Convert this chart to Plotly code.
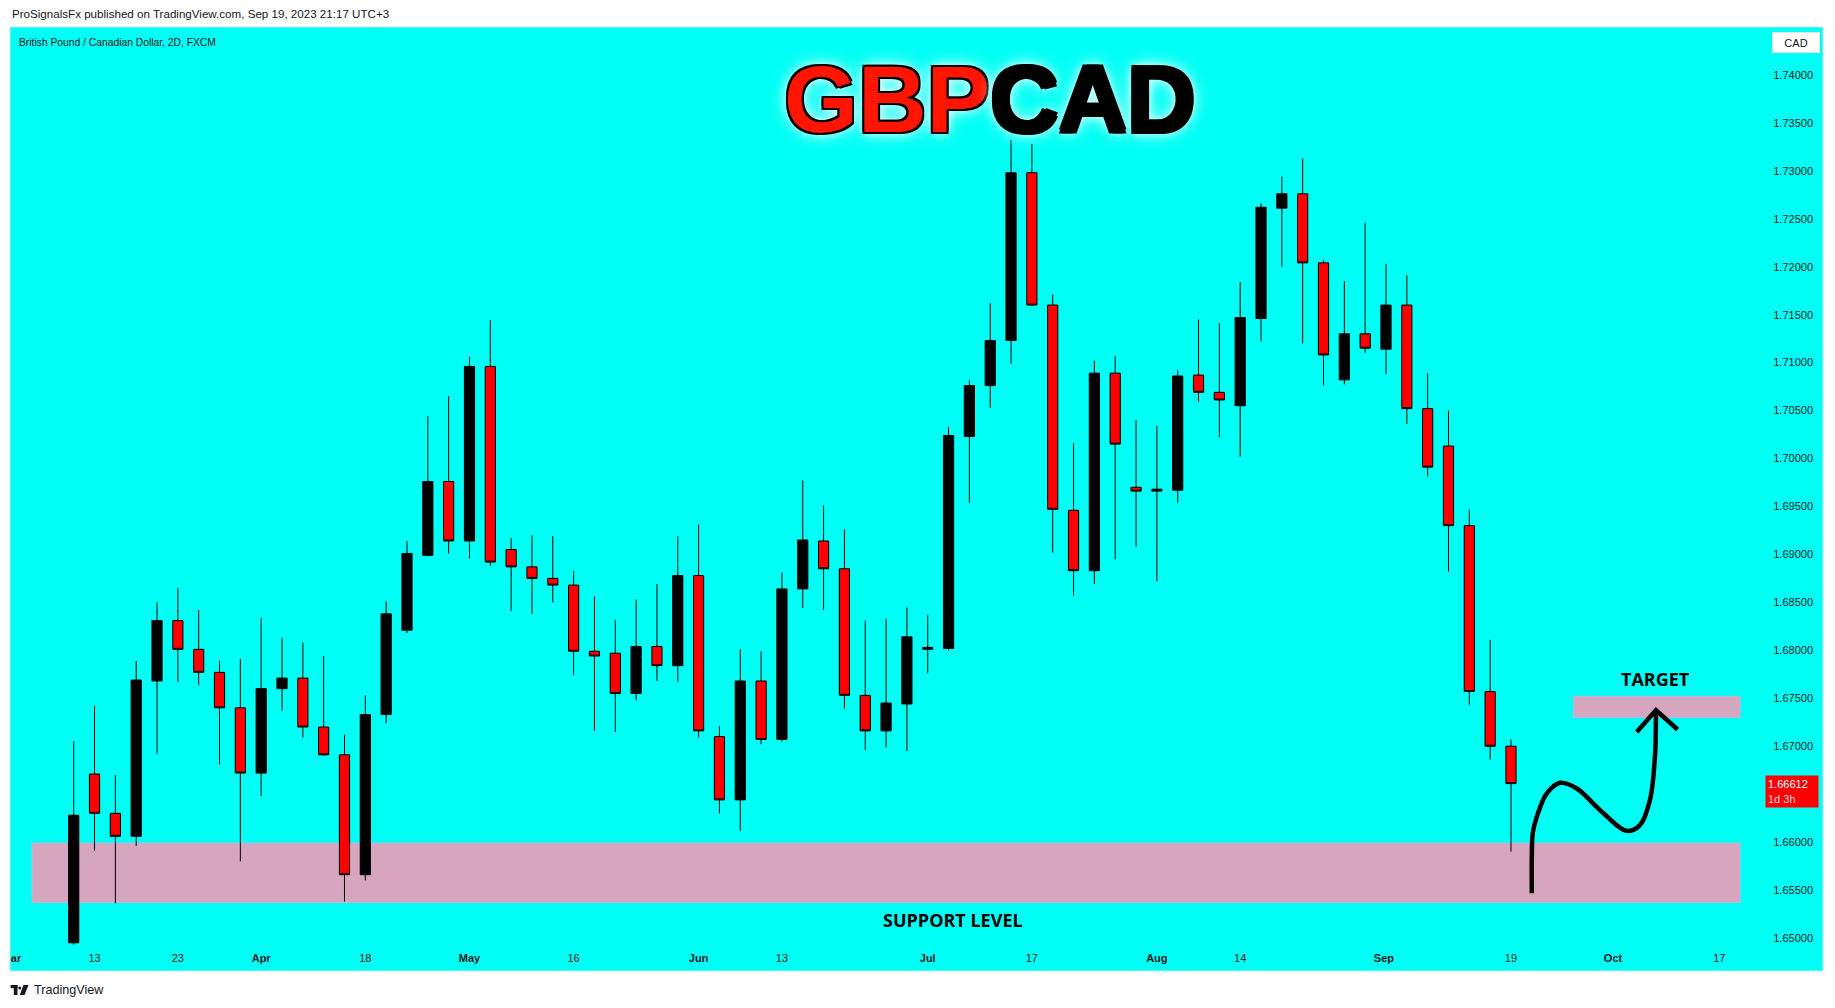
import plotly.graph_objects as go

# ---------------- data ----------------
bar_index = list(range(70))
opens = [1.6495, 1.6671, 1.6630, 1.6606, 1.6768, 1.6831, 1.6801, 1.6777, 1.6740, 1.6672,
         1.6760, 1.6771, 1.6720, 1.6691, 1.6566, 1.6733, 1.6821, 1.6899, 1.6976, 1.6914,
         1.7096, 1.6905, 1.6887, 1.6875, 1.6868, 1.6799, 1.6797, 1.6755, 1.6804, 1.6784,
         1.6878, 1.6710, 1.6644, 1.6768, 1.6707, 1.6864, 1.6914, 1.6885, 1.6753, 1.6716,
         1.6744, 1.6801, 1.6802, 1.7023, 1.7076, 1.7123, 1.7298, 1.7160, 1.6946, 1.6883,
         1.7089, 1.6970, 1.6966, 1.6967, 1.7087, 1.7069, 1.7055, 1.7146, 1.7261, 1.7276,
         1.7204, 1.7082, 1.7130, 1.7114, 1.7160, 1.7052, 1.7013, 1.6930, 1.6757, 1.6700]
highs = [1.6705, 1.6742, 1.6670, 1.6789, 1.6850, 1.6865, 1.6842, 1.6789, 1.6791, 1.6834,
         1.6813, 1.6808, 1.6794, 1.6712, 1.6753, 1.6851, 1.6914, 1.7044, 1.7065, 1.7106,
         1.7144, 1.6917, 1.6920, 1.6919, 1.6883, 1.6856, 1.6832, 1.6853, 1.6869, 1.6919,
         1.6931, 1.6721, 1.6801, 1.6799, 1.6881, 1.6977, 1.6951, 1.6926, 1.6831, 1.6833,
         1.6845, 1.6837, 1.7033, 1.7082, 1.7162, 1.7332, 1.7328, 1.7171, 1.7016, 1.7102,
         1.7107, 1.7040, 1.7034, 1.7092, 1.7145, 1.7141, 1.7184, 1.7266, 1.7294, 1.7313,
         1.7207, 1.7185, 1.7246, 1.7203, 1.7191, 1.7089, 1.7050, 1.6947, 1.6811, 1.6707]
lows = [1.6493, 1.6591, 1.6536, 1.6596, 1.6692, 1.6767, 1.6764, 1.6681, 1.6580, 1.6648,
        1.6737, 1.6709, 1.6690, 1.6538, 1.6560, 1.6724, 1.6818, 1.6898, 1.6901, 1.6896,
        1.6888, 1.6841, 1.6838, 1.6850, 1.6774, 1.6716, 1.6715, 1.6748, 1.6768, 1.6767,
        1.6709, 1.6630, 1.6612, 1.6702, 1.6705, 1.6844, 1.6842, 1.6739, 1.6696, 1.6699,
        1.6695, 1.6776, 1.6800, 1.6954, 1.7053, 1.7099, 1.7159, 1.6902, 1.6857, 1.6869,
        1.6895, 1.6908, 1.6872, 1.6954, 1.7059, 1.7022, 1.7002, 1.7122, 1.7200, 1.7120,
        1.7076, 1.7077, 1.7110, 1.7088, 1.7036, 1.6981, 1.6882, 1.6743, 1.6686, 1.6590]
closes = [1.6628, 1.6630, 1.6606, 1.6769, 1.6831, 1.6801, 1.6777, 1.6740, 1.6672, 1.6760,
          1.6771, 1.6720, 1.6691, 1.6566, 1.6733, 1.6838, 1.6901, 1.6976, 1.6914, 1.7096,
          1.6892, 1.6887, 1.6875, 1.6868, 1.6799, 1.6794, 1.6755, 1.6804, 1.6784, 1.6878,
          1.6716, 1.6644, 1.6768, 1.6707, 1.6864, 1.6915, 1.6885, 1.6753, 1.6716, 1.6745,
          1.6814, 1.6803, 1.7024, 1.7076, 1.7123, 1.7298, 1.7160, 1.6947, 1.6883, 1.7089,
          1.7015, 1.6966, 1.6968, 1.7086, 1.7069, 1.7061, 1.7147, 1.7262, 1.7276, 1.7204,
          1.7108, 1.7130, 1.7115, 1.7160, 1.7052, 1.6991, 1.6930, 1.6757, 1.6700, 1.6661]

x_tick_positions = [-2.77, 1, 5, 9, 14, 19, 24, 30, 34, 41, 46, 52, 56, 62.9, 69, 73.9, 79]
x_tick_labels = ["<b>ar</b>", "13", "23", "<b>Apr</b>", "18", "<b>May</b>", "16", "<b>Jun</b>",
                 "13", "<b>Jul</b>", "17", "<b>Aug</b>", "14", "<b>Sep</b>", "19", "<b>Oct</b>", "17"]

y_tick_values = [1.650, 1.655, 1.660, 1.670, 1.675, 1.680, 1.685, 1.690, 1.695, 1.700,
                 1.705, 1.710, 1.715, 1.720, 1.725, 1.730, 1.735, 1.740]
y_tick_labels = ["1.65000", "1.65500", "1.66000", "1.67000", "1.67500", "1.68000", "1.68500",
                 "1.69000", "1.69500", "1.70000", "1.70500", "1.71000", "1.71500", "1.72000",
                 "1.72500", "1.73000", "1.73500", "1.74000"]

support_zone = [1.6537, 1.6599]
target_zone = [1.6730, 1.6752]
support_span = [-2, 80]
target_span = [72, 80]

last_price = "1.66612"
countdown = "1d 3h"

# hand-drawn projection path (bar index, price)
path_x = [70.0, 70.0, 70.05, 70.24, 70.72, 71.36, 72.16, 73.28, 74.56, 75.19, 75.67, 75.91, 75.96]
path_y = [1.65466, 1.65847, 1.66100, 1.66264, 1.66507, 1.66618, 1.66559, 1.66333, 1.66118,
          1.66177, 1.66438, 1.66889, 1.67375]
head_x = [75.04, 75.96, 77.0]
head_y = [1.67149, 1.67375, 1.67174]

# ---------------- layout geometry ----------------
W, H = 1835, 1008
ML, MR, MT, MB = 10, 12, 27, 37
PW, PH = W - ML - MR, H - MT - MB
PX_PER_UNIT = 9590.0


def pxx(px):
    return (px - ML) / PW


def pxy(py):
    return (H - MB - py) / PH


CYAN = "#00FFF5"
PINK = "#D6A6BF"
TXT = "#131722"

fig = go.Figure()

fig.add_trace(go.Candlestick(
    x=bar_index, open=opens, high=highs, low=lows, close=closes,
    increasing=dict(line=dict(color="#000000", width=1), fillcolor="#000000"),
    decreasing=dict(line=dict(color="#000000", width=1), fillcolor="#FF0000"),
    whiskerwidth=0, hoverinfo="skip", showlegend=False,
))

fig.add_trace(go.Scatter(
    x=path_x, y=path_y, mode="lines", line=dict(color="#000000", width=4.5, shape="spline", smoothing=1.0),
    hoverinfo="skip", showlegend=False,
))
fig.add_trace(go.Scatter(
    x=head_x, y=head_y, mode="lines", line=dict(color="#000000", width=4.5),
    hoverinfo="skip", showlegend=False,
))

shapes = [
    dict(type="rect", xref="x", yref="y", x0=support_span[0], x1=support_span[1],
         y0=support_zone[0], y1=support_zone[1], fillcolor=PINK,
         line=dict(color="#B9B6E6", width=1), layer="below"),
    dict(type="rect", xref="x", yref="y", x0=target_span[0], x1=target_span[1],
         y0=target_zone[0], y1=target_zone[1], fillcolor=PINK,
         line=dict(color="#B9B6E6", width=1), layer="below"),
    dict(type="rect", xref="paper", yref="paper", x0=0, x1=1, y0=0, y1=1,
         fillcolor="rgba(0,0,0,0)", line=dict(color="#B8E4EC", width=1)),
]

# TradingView logo (approximation)
logo_parts = [
    (10.6, 985.0, 17.5, 988.2),
    (13.8, 985.0, 17.5, 995.0),
]
for x0, y0, x1, y1 in logo_parts:
    shapes.append(dict(type="rect", xref="paper", yref="paper", x0=pxx(x0), x1=pxx(x1),
                       y0=pxy(y1), y1=pxy(y0), fillcolor="#131722", line=dict(width=0)))
shapes.append(dict(type="circle", xref="paper", yref="paper", x0=pxx(18.3), x1=pxx(21.3),
                   y0=pxy(989.5), y1=pxy(986.5), fillcolor="#131722", line=dict(width=0)))
pts = [(23.5, 985.0), (28.5, 985.0), (24.5, 995.0), (19.8, 995.0)]
shapes.append(dict(type="path", xref="paper", yref="paper",
                   path="M " + " L ".join(f"{pxx(a)},{pxy(b)}" for a, b in pts) + " Z",
                   fillcolor="#131722", line=dict(width=0)))

annotations = [
    dict(xref="paper", yref="paper", x=pxx(9.5), y=pxy(14), xanchor="left", yanchor="middle",
         text="ProSignalsFx published on TradingView.com, Sep 19, 2023 21:17 UTC+3",
         showarrow=False, font=dict(family="Liberation Sans", size=11.6, color=TXT)),
    dict(xref="paper", yref="paper", x=pxx(17), y=pxy(42), xanchor="left", yanchor="middle",
         text="British Pound / Canadian Dollar, 2D, FXCM",
         showarrow=False, font=dict(family="Liberation Sans", size=10.3, color=TXT)),
    dict(xref="paper", yref="paper", x=pxx(32), y=pxy(990), xanchor="left", yanchor="middle",
         text="TradingView", showarrow=False,
         font=dict(family="Liberation Sans Narrow, Liberation Sans", size=12.6, color=TXT)),
    dict(xref="paper", yref="paper", x=pxx(1796), y=pxy(42.5), xanchor="center", yanchor="middle",
         text="CAD", showarrow=False, bgcolor="#FFFFFF", bordercolor="#E0E3EB", borderwidth=1,
         width=44, height=17, font=dict(family="Liberation Sans", size=11, color=TXT)),
    dict(xref="paper", yref="paper", x=pxx(1819), y=pxy(791), xanchor="right", yanchor="middle",
         text=f"{last_price}<br><span style='color:#FFD6D6'>{countdown}</span>", align="left",
         showarrow=False, bgcolor="#FF0000", borderpad=2, width=48, height=27,
         font=dict(family="Liberation Sans", size=11, color="#FFFFFF")),
    dict(xref="paper", yref="paper", x=pxx(990), y=pxy(99), xanchor="center", yanchor="middle",
         text="<span style='color:#FF1500'>GBP</span>CAD", showarrow=False,
         font=dict(family="Liberation Sans", size=95, color="#000000", weight=700,
                   shadow="-2px -2px 0 #000, 2px -2px 0 #000, -2px 2px 0 #000, 2px 2px 0 #000, "
                          "0 0 10px #FFFFFF, 0 0 18px #FFFFFF")),
    dict(xref="x", yref="y", x=42.2, y=1.6519, xanchor="center", yanchor="middle",
         text="<b>SUPPORT LEVEL</b>", showarrow=False,
         font=dict(family="Open Sans", size=18, color="#000000")),
    dict(xref="x", yref="y", x=75.96, y=1.6770, xanchor="center", yanchor="middle",
         text="<b>TARGET</b>", showarrow=False,
         font=dict(family="Open Sans", size=18, color="#000000")),
]

fig.update_layout(
    width=W, height=H,
    margin=dict(l=ML, r=MR, t=MT, b=MB, pad=0),
    paper_bgcolor="#FFFFFF", plot_bgcolor=CYAN,
    shapes=shapes, annotations=annotations, showlegend=False,
    xaxis=dict(range=[(ML - 73.7) / 20.83, (W - MR - 73.7) / 20.83],
               tickmode="array", tickvals=x_tick_positions, ticktext=x_tick_labels,
               showgrid=False, zeroline=False, showline=False, ticks="",
               ticklabelposition="inside", ticklabeloverflow="allow", ticklabelstandoff=4,
               tickfont=dict(family="Liberation Sans", size=11, color=TXT),
               rangeslider=dict(visible=False), fixedrange=True),
    yaxis=dict(range=[1.65 - 33 / PX_PER_UNIT, 1.65 + 911 / PX_PER_UNIT], side="right",
               tickmode="array", tickvals=y_tick_values, ticktext=y_tick_labels,
               showgrid=False, zeroline=False, showline=False, ticks="",
               ticklabelposition="inside", ticklabeloverflow="allow", ticklabelstandoff=7,
               tickfont=dict(family="Liberation Sans", size=11, color=TXT), fixedrange=True),
)

fig.write_html("out.html", config={"displayModeBar": False},
               post_script="document.body.style.margin='0';document.body.style.overflow='hidden';")
